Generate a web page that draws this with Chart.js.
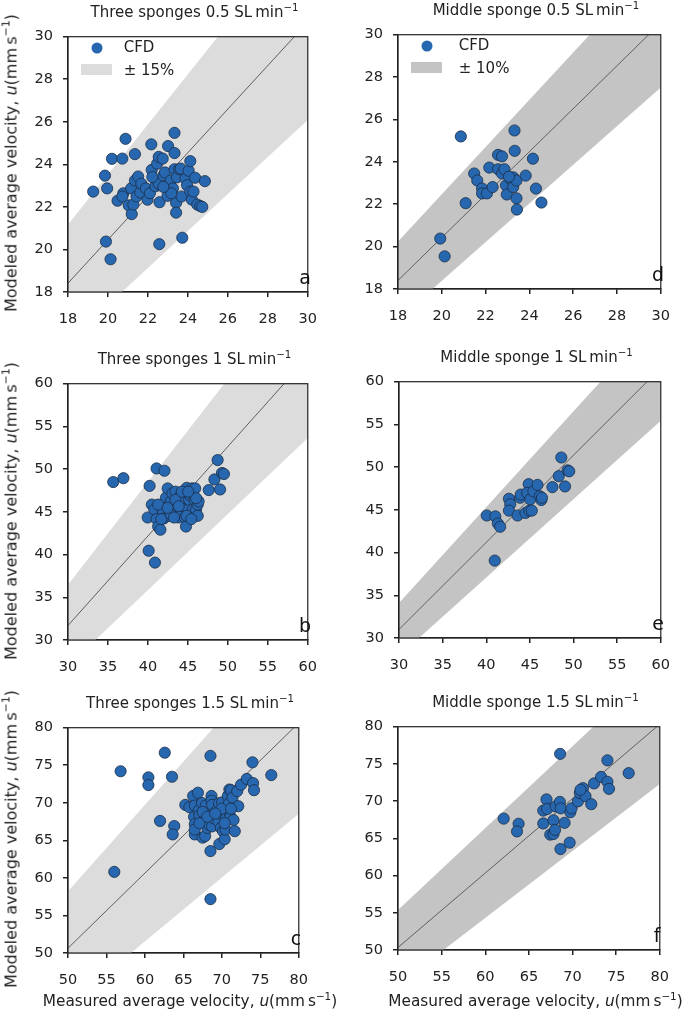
<!DOCTYPE html>
<html>
<head>
<meta charset="utf-8">
<script src="https://cdn.jsdelivr.net/npm/chart.js@4.4.1/dist/chart.umd.min.js"></script>
<style>
  body { margin: 0; background: #fff; font-family: "DejaVu Sans", sans-serif; color: #222; }
  #page { position: relative; width: 685px; height: 1013px; overflow: hidden; }
  canvas { position: absolute; }
  .txt { position: absolute; white-space: nowrap; transform: translate(-50%, -50%); font-size: 15px; }
  .ylab { transform: translate(-50%, -50%) rotate(-90deg); font-size: 16px; }
  .xlab { font-size: 15.3px; }
  .letter { font-size: 19px; color: #111; }
  .leg { position: absolute; white-space: nowrap; font-size: 15px; transform: translateY(-50%); }
  .dot { position: absolute; width: 11px; height: 11px; border-radius: 50%; background: #2767b0; transform: translate(-50%, -50%); }
  .patch { position: absolute; }
  sup { font-size: 0.68em; line-height: 0; vertical-align: 0.6em; }
</style>
</head>
<body>
<div id="page"></div>
<script>
// tick values (also give the axis ranges)
const ticksLow = [18, 20, 22, 24, 26, 28, 30];
const ticksMid = [30, 35, 40, 45, 50, 55, 60];
const ticksHigh = [50, 55, 60, 65, 70, 75, 80];

// a: three sponges 0.5 SL/min
const aMeasured = [19.26, 19.85, 19.96, 19.9, 20.13, 20.2, 20.48, 20.72, 20.88, 20.77, 20.72, 21.04, 21.19, 21.27, 21.16, 21.35, 21.35, 21.51, 21.43, 21.62, 21.67, 21.9, 21.98, 22.1, 22.17, 22.19, 22.38, 22.46, 22.54, 22.58, 22.57, 22.74, 22.54, 22.77, 22.85, 22.93, 22.98, 23.01, 23.14, 23.25, 23.33, 23.33, 23.33, 23.41, 23.41, 23.45, 23.57, 23.68, 23.72, 23.88, 23.64, 23.96, 24.04, 24.12, 24.12, 24.2, 24.28, 24.36, 24.47, 24.62, 24.72, 24.85, 23.17, 22.77, 22.22];
const aModeled = [22.72, 23.47, 22.87, 20.37, 19.54, 24.26, 22.29, 24.27, 25.2, 22.64, 22.49, 22.07, 21.66, 22.11, 22.87, 24.48, 23.24, 23.43, 22.49, 22.68, 23.09, 22.87, 22.34, 22.64, 24.94, 23.74, 22.97, 24.03, 24.35, 22.22, 20.25, 24.27, 23.09, 23.47, 23.62, 22.94, 22.52, 24.86, 23.24, 22.87, 23.77, 24.53, 25.48, 22.19, 21.73, 23.39, 23.77, 22.49, 20.55, 23.32, 23.8, 23.02, 23.7, 24.15, 22.72, 22.34, 22.72, 23.37, 22.11, 22.04, 22.0, 23.21, 22.64, 22.94, 23.4];

// d: middle sponge 0.5 SL/min
const dMeasured = [19.93, 20.13, 20.87, 21.09, 21.48, 21.62, 21.84, 21.84, 22.06, 22.17, 22.32, 22.57, 22.57, 22.75, 22.75, 22.86, 22.93, 22.97, 23.14, 23.26, 23.26, 23.32, 23.33, 23.41, 23.41, 23.43, 23.83, 24.16, 24.3, 24.55, 23.07];
const dModeled = [20.38, 19.54, 25.2, 22.05, 23.45, 23.12, 22.74, 22.51, 22.51, 23.73, 22.81, 23.65, 24.33, 24.26, 23.45, 23.65, 22.89, 22.46, 23.19, 22.81, 23.27, 25.48, 24.52, 23.12, 22.28, 21.75, 23.35, 24.15, 22.74, 22.08, 23.3];

// b: three sponges 1 SL/min
const bMeasured = [35.66, 36.93, 40.09, 40.88, 41.08, 42.07, 40.21, 39.97, 40.49, 40.8, 41.08, 41.28, 41.56, 41.79, 41.87, 41.99, 42.27, 42.47, 42.66, 42.86, 43.06, 43.26, 43.45, 43.57, 43.65, 43.85, 43.97, 44.05, 44.17, 44.25, 44.36, 44.52, 44.64, 44.76, 44.84, 45.04, 45.16, 45.24, 45.31, 45.51, 45.63, 45.83, 45.91, 46.03, 46.23, 46.23, 46.34, 44.84, 45.43, 47.61, 48.32, 48.72, 49.03, 49.27, 49.51, 41.28, 41.67, 42.86, 42.47, 43.45, 44.25, 46.03, 43.26, 45.04, 43.85];
const bModeled = [48.49, 48.94, 40.45, 39.06, 50.08, 49.81, 48.04, 44.34, 45.85, 45.28, 44.15, 43.28, 42.91, 45.85, 45.09, 44.23, 46.68, 47.74, 44.53, 46.23, 47.17, 45.47, 47.36, 44.72, 46.04, 44.34, 46.79, 45.09, 46.04, 44.72, 45.66, 46.6, 44.34, 43.28, 47.81, 45.28, 46.42, 46.98, 44.34, 47.74, 45.28, 46.42, 47.74, 45.28, 45.85, 44.53, 46.23, 44.53, 44.15, 47.55, 48.79, 51.06, 47.62, 49.55, 49.43, 45.85, 44.15, 44.72, 45.47, 46.42, 47.36, 46.6, 44.34, 47.36, 45.66];

// e: middle sponge 1 SL/min
const eMeasured = [40.06, 41.04, 40.97, 41.33, 41.59, 42.6, 42.75, 42.6, 43.59, 43.88, 43.95, 44.49, 44.93, 44.86, 44.68, 45.04, 45.4, 45.87, 46.13, 46.31, 46.38, 47.58, 48.31, 48.6, 49.03, 49.32, 49.51, 45.22];
const eModeled = [44.34, 44.23, 39.06, 43.4, 43.02, 46.3, 45.66, 44.91, 44.34, 46.42, 46.79, 44.64, 44.91, 48.0, 46.98, 46.23, 47.17, 47.92, 46.6, 46.15, 46.42, 47.66, 48.94, 51.13, 47.74, 49.62, 49.51, 44.91];

// c: three sponges 1.5 SL/min
const cMeasured = [56.02, 56.84, 60.45, 60.45, 62.58, 61.97, 63.52, 63.81, 63.61, 68.52, 68.52, 68.52, 65.25, 65.78, 66.27, 66.48, 66.39, 66.48, 66.48, 66.48, 66.89, 67.01, 67.09, 67.42, 67.5, 67.7, 67.83, 67.91, 68.11, 68.32, 68.52, 68.65, 68.65, 68.73, 68.73, 68.73, 68.93, 69.34, 69.55, 69.63, 69.67, 69.75, 69.88, 70.04, 70.16, 70.37, 70.49, 70.57, 70.78, 70.86, 70.98, 70.98, 71.11, 71.19, 71.39, 71.52, 71.68, 72.0, 72.13, 72.5, 73.24, 73.98, 74.06, 74.18, 76.43, 67.5, 67.09, 69.96, 70.37, 68.11, 69.14, 71.19];
const cModeled = [60.8, 74.2, 73.39, 72.36, 76.67, 67.58, 73.47, 66.9, 65.79, 76.25, 57.17, 63.57, 69.72, 69.42, 70.91, 69.63, 68.14, 67.16, 65.79, 66.43, 71.34, 68.99, 68.35, 69.97, 65.36, 67.5, 65.58, 69.63, 66.65, 67.07, 68.78, 70.91, 70.27, 69.72, 68.35, 66.86, 67.93, 68.99, 67.5, 69.93, 64.51, 68.57, 66.65, 70.06, 66.22, 65.15, 66.43, 67.93, 70.91, 69.85, 68.78, 71.77, 68.14, 71.68, 70.7, 67.71, 66.22, 71.55, 69.55, 72.41, 73.18, 75.39, 72.62, 71.68, 73.69, 68.78, 67.29, 69.21, 67.29, 68.14, 68.57, 69.21];

// f: middle sponge 1.5 SL/min
const fMeasured = [62.11, 63.82, 63.64, 66.65, 66.65, 67.02, 67.09, 67.45, 67.82, 67.82, 68.0, 68.07, 68.58, 68.62, 68.55, 68.65, 69.09, 69.67, 69.75, 69.89, 70.62, 70.84, 71.2, 71.49, 72.15, 72.47, 73.27, 74.0, 74.0, 74.18, 76.44, 70.91];
const fModeled = [67.65, 66.96, 65.93, 67.0, 68.73, 70.23, 68.94, 65.5, 65.58, 67.43, 66.14, 69.29, 76.35, 63.56, 69.89, 69.03, 67.09, 64.42, 68.51, 69.03, 69.97, 71.09, 71.74, 70.66, 69.59, 72.38, 73.25, 75.48, 72.6, 71.65, 73.76, 71.52];

// fitted line (slope, intercept) and tolerance band, panels a, d, b, e, c, f
const panelLetters = ['a', 'd', 'b', 'e', 'c', 'f'];
const fitSlopes = [1.023, 1.013, 1.047, 1.02, 1.0, 1.0];
const fitIntercepts = [0.0, 0.17, 0.29, 0.4, 0.64, 0.34];
const bandFractions = [0.15, 0.10, 0.15, 0.10, 0.15, 0.10];
const panelTitles = [
  'Three sponges 0.5 SL&thinsp;min<sup>−1</sup>',
  'Middle sponge 0.5 SL&thinsp;min<sup>−1</sup>',
  'Three sponges 1 SL&thinsp;min<sup>−1</sup>',
  'Middle sponge 1 SL&thinsp;min<sup>−1</sup>',
  'Three sponges 1.5 SL&thinsp;min<sup>−1</sup>',
  'Middle sponge 1.5 SL&thinsp;min<sup>−1</sup>'
];

const page = document.getElementById('page');
const ink = '#222';
const lightBand = '#dcdcdc';
const darkBand = '#c4c4c4';

const panels = [
  { mx: aMeasured, my: aModeled, ticks: ticksLow, box: [68, 28, 321, 292], band: lightBand, ylab: true, xlab: false, legend: true },
  { mx: dMeasured, my: dModeled, ticks: ticksLow, box: [398, 26, 674, 289], band: darkBand, ylab: false, xlab: false, legend: true },
  { mx: bMeasured, my: bModeled, ticks: ticksMid, box: [68, 375, 321, 640], band: lightBand, ylab: true, xlab: false, legend: false },
  { mx: eMeasured, my: eModeled, ticks: ticksMid, box: [399, 373, 674, 638], band: darkBand, ylab: false, xlab: false, legend: false },
  { mx: cMeasured, my: cModeled, ticks: ticksHigh, box: [68, 719, 312, 953], band: lightBand, ylab: true, xlab: true, legend: false },
  { mx: fMeasured, my: fModeled, ticks: ticksHigh, box: [398, 718, 673, 950], band: darkBand, ylab: false, xlab: true, legend: false }
];

// matplotlib-style box round the plot area
const frame = {
  id: 'frame',
  afterDatasetsDraw(chart) {
    const { ctx, chartArea: a } = chart;
    ctx.save();
    ctx.strokeStyle = ink;
    ctx.lineWidth = 1.2;
    ctx.strokeRect(a.left, a.top, a.right - a.left, a.bottom - a.top);
    ctx.restore();
  }
};

const addText = (html, x, y, cls) => {
  const el = document.createElement('div');
  el.className = cls;
  el.innerHTML = html;
  el.style.left = x + 'px';
  el.style.top = y + 'px';
  page.appendChild(el);
  return el;
};

const axisLabel = (which) => `${which} average velocity, <i>u</i>(mm&thinsp;s<sup>−1</sup>)`;

panels.forEach((p, i) => {
  const [L, T, R, B] = p.box;
  const padL = 60, padT = 10, padR = 10, padB = 40;
  const cv = document.createElement('canvas');
  cv.width = R - L + padL + padR;
  cv.height = B - T + padT + padB;
  cv.style.left = (L - padL) + 'px';
  cv.style.top = (T - padT) + 'px';
  page.appendChild(cv);

  const lo = p.ticks[0], hi = p.ticks[p.ticks.length - 1], step = p.ticks[1] - p.ticks[0];
  const fitY = x => fitSlopes[i] * x + fitIntercepts[i];
  const ends = [lo, hi];
  const frac = bandFractions[i];

  const tickFont = { family: 'DejaVu Sans', size: 14.5 };
  const axis = (padding, fit) => ({
    type: 'linear', min: lo, max: hi,
    ticks: { stepSize: step, padding: padding, color: ink, font: tickFont },
    grid: { drawOnChartArea: false, drawTicks: true, tickLength: 5, color: ink, lineWidth: 1.5 },
    border: { display: true, color: ink, width: 1.2 },
    afterFit: fit
  });

  new Chart(cv, {
    type: 'scatter',
    data: {
      datasets: [
        {
          data: p.mx.map((x, k) => ({ x: x, y: p.my[k] })),
          pointRadius: 5.6, backgroundColor: '#2767b0', borderColor: '#1b2d45', borderWidth: 0.8,
          order: 0
        },
        {
          type: 'line', data: ends.map(x => ({ x: x, y: fitY(x) })),
          borderColor: '#5f5f5f', borderWidth: 1, pointRadius: 0, fill: false, order: 1
        },
        {
          type: 'line', data: ends.map(x => ({ x: x, y: fitY(x) * (1 - frac) })),
          borderWidth: 0, pointRadius: 0, fill: false, order: 2
        },
        {
          type: 'line', data: ends.map(x => ({ x: x, y: fitY(x) * (1 + frac) })),
          borderWidth: 0, pointRadius: 0, fill: '-1', backgroundColor: p.band, order: 3
        }
      ]
    },
    options: {
      responsive: false,
      animation: false,
      events: [],
      layout: { padding: { left: 0, top: padT, right: padR, bottom: 0 }, autoPadding: false },
      plugins: { legend: { display: false }, tooltip: { enabled: false } },
      scales: {
        x: axis(14, s => { s.height = padB; }),
        y: axis(10, s => { s.width = padL; })
      }
    },
    plugins: [frame]
  });

  const cx = (L + R) / 2;
  addText(panelTitles[i], cx, T - 16.5, 'txt');
  addText(panelLetters[i], R - 16, B - 15, 'txt letter');
  if (p.ylab) addText(axisLabel('Modeled'), 11, (T + B) / 2 + 3, 'txt ylab');
  if (p.xlab) addText(axisLabel('Measured'), cx, 1001, 'txt xlab');

  if (p.legend) {
    const w = R - L;
    const dot = document.createElement('div');
    dot.className = 'dot';
    dot.style.left = (L + 29) + 'px';
    dot.style.top = (T + 20) + 'px';
    page.appendChild(dot);
    const patch = document.createElement('div');
    patch.className = 'patch';
    patch.style.left = (L + 13) + 'px';
    patch.style.top = (T + 36) + 'px';
    patch.style.width = '31px';
    patch.style.height = '11px';
    patch.style.background = p.band;
    page.appendChild(patch);
    addText('CFD', L + 0.22 * w, T + 19, 'leg');
    addText('± ' + Math.round(frac * 100) + '%', L + 0.22 * w, T + 41.5, 'leg');
  }
});
</script>
</body>
</html>
